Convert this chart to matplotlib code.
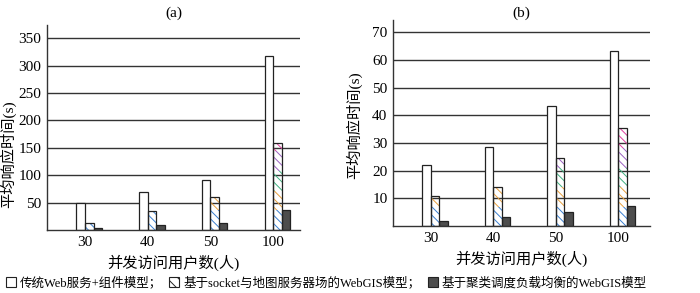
import matplotlib
matplotlib.use('Agg')
import matplotlib.pyplot as plt
from matplotlib.patches import Patch
import numpy as np

plt.rcParams['font.family'] = ['Liberation Serif', 'Noto Sans CJK SC']
plt.rcParams['hatch.linewidth'] = 0.7

users = ['30', '40', '50', '100']
# (a)
a_trad = [50, 70, 91, 317]
a_socket = [12, 35, 61, 158]
a_cluster = [4, 9, 12, 37]
a_ticks = [50, 100, 150, 200, 250, 300, 350]
# (b)
b_trad = [22, 28.5, 43.3, 63.3]
b_socket = [11, 14.1, 24.5, 35.5]
b_cluster = [1.7, 3.1, 4.9, 7.4]
b_ticks = [10, 20, 30, 40, 50, 60, 70]

series_names = ['传统Web服务+组件模型；', '基于socket与地图服务器场的WebGIS模型；', '基于聚类调度负载均衡的WebGIS模型']
hatch_colors = ['#3a7fd0', '#e8a040', '#40b080', '#9a60c0', '#e040a0', '#c8c040', '#50a0c0', '#e05070']

W = 0.136
grid_c = '#333333'


def draw_panel(ax, trad, socket, cluster, ticks, ymax, seg, title, xlim, title_pad):
    x = np.arange(len(users))
    ax.bar(x - W / 2, trad, W, color='white', edgecolor='#222222', linewidth=0.9, zorder=2)
    # hatched bars: colourful dashed diagonals, done in short stacked pieces
    for i in range(len(users)):
        bottom = 0
        k = 0
        while bottom < socket[i]:
            h = min(seg, socket[i] - bottom)
            ax.bar(x[i] + W / 2, h, W, bottom=bottom, fill=False, hatch='\\\\\\\\',
                   edgecolor=hatch_colors[k % len(hatch_colors)], linewidth=0, zorder=2)
            bottom += seg
            k += 1
    ax.bar(x + W / 2, socket, W, fill=False, edgecolor='#222222', linewidth=0.9, zorder=3)
    ax.bar(x + 3 * W / 2, cluster, W, color='#4d4d4d', edgecolor='#222222', linewidth=0.9, zorder=2)

    ax.set_xlim(*xlim)
    ax.set_ylim(0, ymax)
    ax.set_xticks(x)
    ax.set_xticklabels(users, fontsize=11)
    ax.set_yticks(ticks)
    ax.set_yticklabels([str(t) for t in ticks], fontsize=11)
    ax.tick_params(length=0, pad=4)
    ax.yaxis.grid(True, color=grid_c, linewidth=1.0)
    ax.set_axisbelow(True)
    for s in ['top', 'right']:
        ax.spines[s].set_visible(False)
    ax.spines['left'].set_color(grid_c)
    ax.spines['bottom'].set_color(grid_c)
    ax.spines['left'].set_linewidth(1.0)
    ax.spines['bottom'].set_linewidth(1.0)
    ax.set_xlabel('并发访问用户数(人)', fontsize=11)
    ax.xaxis.set_label_coords(0.5, -0.12)
    ax.set_ylabel('平均响应时间(s)', fontsize=11)
    ax.set_title(title, fontsize=11, pad=title_pad)


fig = plt.figure(figsize=(7, 2.93), dpi=100)
ax1 = fig.add_axes([47 / 700, 1 - 230 / 293, 253 / 700, 205 / 293])
ax2 = fig.add_axes([393 / 700, 1 - 226 / 293, 257 / 700, 206 / 293])

draw_panel(ax1, a_trad, a_socket, a_cluster, a_ticks, 374, 36, '(a)', (-0.606, 3.43), 6)
draw_panel(ax2, b_trad, b_socket, b_cluster, b_ticks, 74.4, 7, '(b)', (-0.604, 3.51), 2.5)
ax1.yaxis.set_label_coords(-0.12, 0.37)
ax2.yaxis.set_label_coords(-0.12, 0.49)

handles = [Patch(facecolor='white', edgecolor='#222222', linewidth=0.8),
           Patch(facecolor='white', edgecolor='#222222', hatch='\\\\\\', linewidth=0.8),
           Patch(facecolor='#4d4d4d', edgecolor='#222222', linewidth=0.8)]
fig.legend(handles, series_names, loc='lower left', bbox_to_anchor=(-0.004, -0.018), ncol=3,
           frameon=False, fontsize=9, handlelength=0.8, handleheight=0.8,
           handletextpad=0.3, columnspacing=0.6, borderpad=0.2)

fig.savefig('out.png', dpi=100)
